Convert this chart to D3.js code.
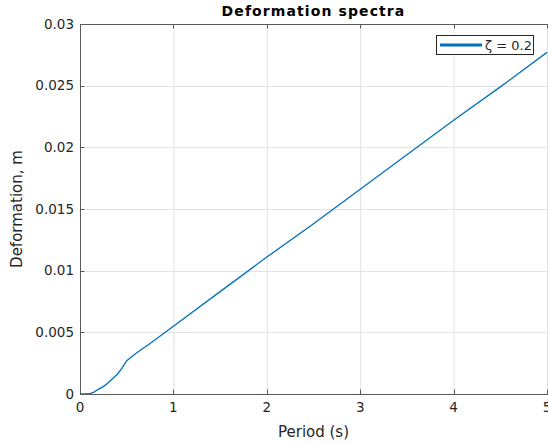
<!DOCTYPE html>
<html><head><meta charset="utf-8">
<script src="https://cdn.jsdelivr.net/npm/d3@7"></script>
<style>body{margin:0;background:#fff;overflow:hidden}svg{display:block}text{font-family:"DejaVu Sans",sans-serif}</style>
</head><body>
<script>
const periods = [0,0.05,0.1,0.15,0.2,0.25,0.3,0.35,0.4,0.45,0.5,0.55,0.6,0.75,1.0,1.5,2.0,2.5,3.0,3.5,4.0,4.5,5.0];
const deform  = [0,0,0.00002,0.00015,0.0004,0.0006,0.0009,0.00125,0.0016,0.0021,0.0027,0.0030,0.0033,0.0041,0.0055,0.0083,0.0111,0.0138,0.0166,0.0194,0.0222,0.0249,0.0277];
const xTicks = [0,1,2,3,4,5];
const yTicks = [0,0.005,0.01,0.015,0.02,0.025,0.03];
const yTickLabels = ["0","0.005","0.01","0.015","0.02","0.025","0.03"];
const seriesName = "ζ = 0.2";

const W=548,H=443;
const m={l:80,t:24,r:547,b:394};
const svg=d3.select("body").append("svg").attr("width",W).attr("height",H);
const x=d3.scaleLinear().domain([0,5]).range([m.l,m.r]);
const y=d3.scaleLinear().domain([0,0.03]).range([m.b,m.t]);
const ax="#262626";
// grid
svg.append("g").selectAll("line").data(xTicks.slice(1)).join("line")
 .attr("x1",d=>x(d)+0.5).attr("x2",d=>x(d)+0.5).attr("y1",m.t).attr("y2",m.b)
 .attr("stroke","#e3e3e3").attr("stroke-width",1);
svg.append("g").selectAll("line").data(yTicks.slice(1)).join("line")
 .attr("y1",d=>Math.round(y(d))+0.5).attr("y2",d=>Math.round(y(d))+0.5).attr("x1",m.l).attr("x2",m.r)
 .attr("stroke","#e3e3e3").attr("stroke-width",1);
// line
svg.append("path").datum(periods.map((p,i)=>[p,deform[i]]))
 .attr("d",d3.line().x(d=>x(d[0])).y(d=>y(d[1])))
 .attr("fill","none").attr("stroke","#0072BD").attr("stroke-width",1.3);
// axes box
const bx=svg.append("g").attr("stroke","#5a5a5a").attr("stroke-width",1).attr("fill","none");
bx.append("line").attr("x1",m.l).attr("x2",W).attr("y1",m.b+0.5).attr("y2",m.b+0.5);
bx.append("line").attr("x1",m.l).attr("x2",W).attr("y1",m.t+0.5).attr("y2",m.t+0.5);
bx.append("line").attr("x1",m.l+0.5).attr("x2",m.l+0.5).attr("y1",m.t).attr("y2",m.b+1);
// ticks
const tl=4.5;
xTicks.forEach(d=>{
 const px=Math.round(x(d))+0.5;
 bx.append("line").attr("x1",px).attr("x2",px).attr("y1",m.b).attr("y2",m.b-tl);
 bx.append("line").attr("x1",px).attr("x2",px).attr("y1",m.t).attr("y2",m.t+tl);
});
yTicks.forEach(d=>{
 const py=Math.round(y(d))+0.5;
 bx.append("line").attr("x1",m.l).attr("x2",m.l+tl).attr("y1",py).attr("y2",py);
});
// tick labels
svg.append("g").selectAll("text").data(xTicks).join("text")
 .attr("x",d=>x(d)).attr("y",m.b+18).attr("text-anchor","middle")
 .attr("font-size",13.5).attr("fill",ax).text(d=>d);
svg.append("g").selectAll("text").data(yTicks).join("text")
 .attr("x",m.l-6).attr("y",d=>y(d)+4.5).attr("text-anchor","end")
 .attr("font-size",13.5).attr("fill",ax).text((d,i)=>yTickLabels[i]);
// labels
svg.append("text").attr("x",(m.l+m.r)/2).attr("y",16).attr("text-anchor","middle")
 .attr("font-size",14).attr("font-weight","bold").attr("letter-spacing",1.1).attr("fill","#000").text("Deformation spectra");
svg.append("text").attr("x",(m.l+m.r)/2).attr("y",437).attr("text-anchor","middle")
 .attr("font-size",15).attr("fill",ax).text("Period (s)");
svg.append("text").attr("transform",`translate(22,${(m.t+m.b)/2}) rotate(-90)`).attr("text-anchor","middle")
 .attr("font-size",15).attr("fill",ax).text("Deformation, m");
// legend
const lg=svg.append("g");
lg.append("rect").attr("x",436.5).attr("y",35.5).attr("width",97).attr("height",19)
 .attr("fill","#fff").attr("stroke","#262626").attr("stroke-width",1);
lg.append("line").attr("x1",440).attr("x2",482).attr("y1",45).attr("y2",45)
 .attr("stroke","#0072BD").attr("stroke-width",3);
lg.append("text").attr("x",485).attr("y",50).attr("font-size",13).attr("fill",ax).text(seriesName);
</script>
</body></html>
